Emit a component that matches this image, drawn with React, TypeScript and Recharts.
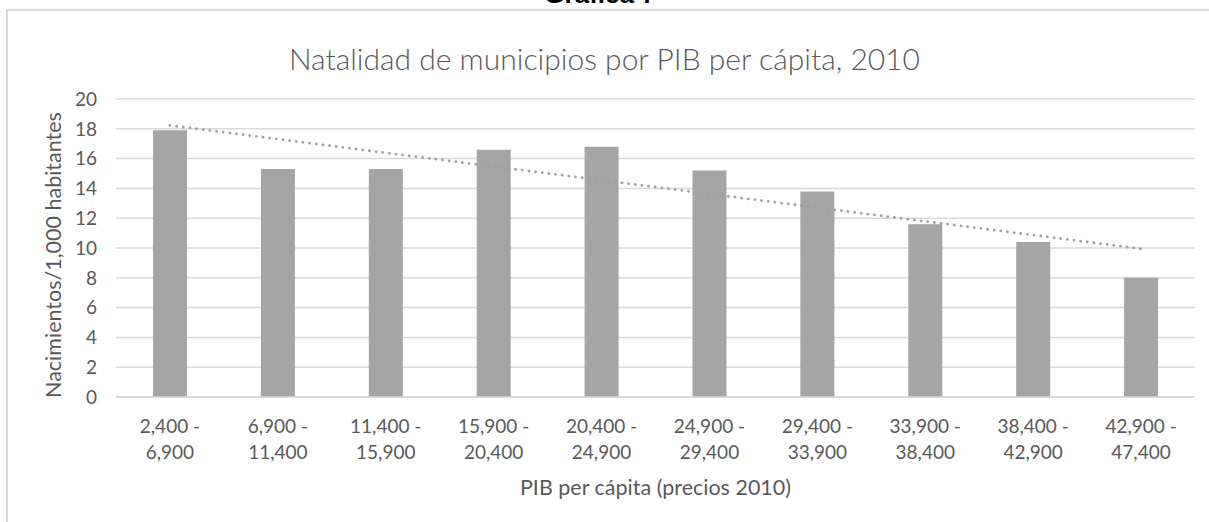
import React from "react";
import {
  ComposedChart,
  Bar,
  Line,
  XAxis,
  YAxis,
  CartesianGrid,
} from "recharts";

const categories = [
  "2,400 - 6,900",
  "6,900 - 11,400",
  "11,400 - 15,900",
  "15,900 - 20,400",
  "20,400 - 24,900",
  "24,900 - 29,400",
  "29,400 - 33,900",
  "33,900 - 38,400",
  "38,400 - 42,900",
  "42,900 - 47,400",
];

const natalidad = [17.9, 15.3, 15.3, 16.6, 16.8, 15.2, 13.8, 11.6, 10.4, 8.0];

// linear trend line
const tendencia = [18.23, 17.31, 16.39, 15.47, 14.55, 13.63, 12.71, 11.79, 10.87, 9.95];

const yTicks = [0, 2, 4, 6, 8, 10, 12, 14, 16, 18, 20];

const data = categories.map((label, i) => ({
  label,
  value: natalidad[i],
  trend: tendencia[i],
}));

const FONT = "Lato, 'Open Sans', sans-serif";
const TEXT = "#595959";

function XTick(props: any) {
  const { x, y, payload } = props;
  const [a, b] = String(payload.value).split(" - ");
  return (
    <text x={x} y={y} textAnchor="middle" fill={TEXT} fontSize={19} fontFamily={FONT}>
      <tspan x={x} dy={36}>{a + " -"}</tspan>
      <tspan x={x} dy={26}>{b}</tspan>
    </text>
  );
}

export default function App() {
  return (
    <div
      style={{
        position: "absolute",
        left: 0,
        top: 0,
        width: 1209,
        height: 522,
        background: "#fff",
        overflow: "hidden",
        fontFamily: FONT,
      }}
    >
      <div
        style={{
          position: "absolute",
          left: 0,
          width: 1200,
          top: -21,
          textAlign: "center",
          fontWeight: "bold",
          fontSize: 26,
          lineHeight: "30px",
          color: "#000",
          fontFamily: "'Liberation Sans', sans-serif",
        }}
      >
        Gráfica 7
      </div>
      <div
        style={{
          position: "absolute",
          left: 6,
          top: 9,
          right: 0,
          bottom: -4,
          borderTop: "2px solid #d9d9d9",
          borderLeft: "2px solid #d9d9d9",
        }}
      />
      <div
        style={{
          position: "absolute",
          left: 0,
          width: 1209,
          top: 40,
          textAlign: "center",
          fontSize: 30,
          fontWeight: 300,
          lineHeight: "36px",
          color: TEXT,
        }}
      >
        Natalidad de municipios por PIB per cápita, 2010
      </div>
      <div
        style={{
          position: "absolute",
          left: 116,
          width: 1079,
          top: 474,
          textAlign: "center",
          fontSize: 21.5,
          lineHeight: "26px",
          color: TEXT,
        }}
      >
        PIB per cápita (precios 2010)
      </div>
      <div
        style={{
          position: "absolute",
          left: 53 - 200,
          top: 255 - 13,
          width: 400,
          textAlign: "center",
          fontSize: 21.5,
          lineHeight: "26px",
          color: TEXT,
          transform: "rotate(-90deg)",
        }}
      >
        Nacimientos/1,000 habitantes
      </div>
      <div style={{ position: "absolute", left: 0, top: 0 }}>
        <ComposedChart
          width={1209}
          height={522}
          data={data}
          margin={{ top: 99, right: 14, bottom: 65, left: 56 }}
        >
          <CartesianGrid vertical={false} stroke="#d9d9d9" strokeWidth={1.5} />
          <XAxis
            dataKey="label"
            axisLine={{ stroke: "#d9d9d9", strokeWidth: 1.5 }}
            tickLine={false}
            tickSize={0}
            tickMargin={0}
            height={60}
            interval={0}
            tick={<XTick />}
          />
          <YAxis
            domain={[0, 20]}
            ticks={yTicks}
            width={60}
            axisLine={false}
            tickLine={false}
            tickSize={0}
            tickMargin={19}
            tick={{ fill: TEXT, fontSize: 19, fontFamily: FONT }}
          />
          <Bar dataKey="value" fill="#a5a5a5" barSize={34} isAnimationActive={false} />
          <Line
            dataKey="trend"
            type="linear"
            stroke="#a0a0a0"
            strokeWidth={2.8}
            strokeDasharray="0.1 6.6"
            strokeLinecap="round"
            dot={false}
            activeDot={false}
            isAnimationActive={false}
          />
        </ComposedChart>
      </div>
    </div>
  );
}
